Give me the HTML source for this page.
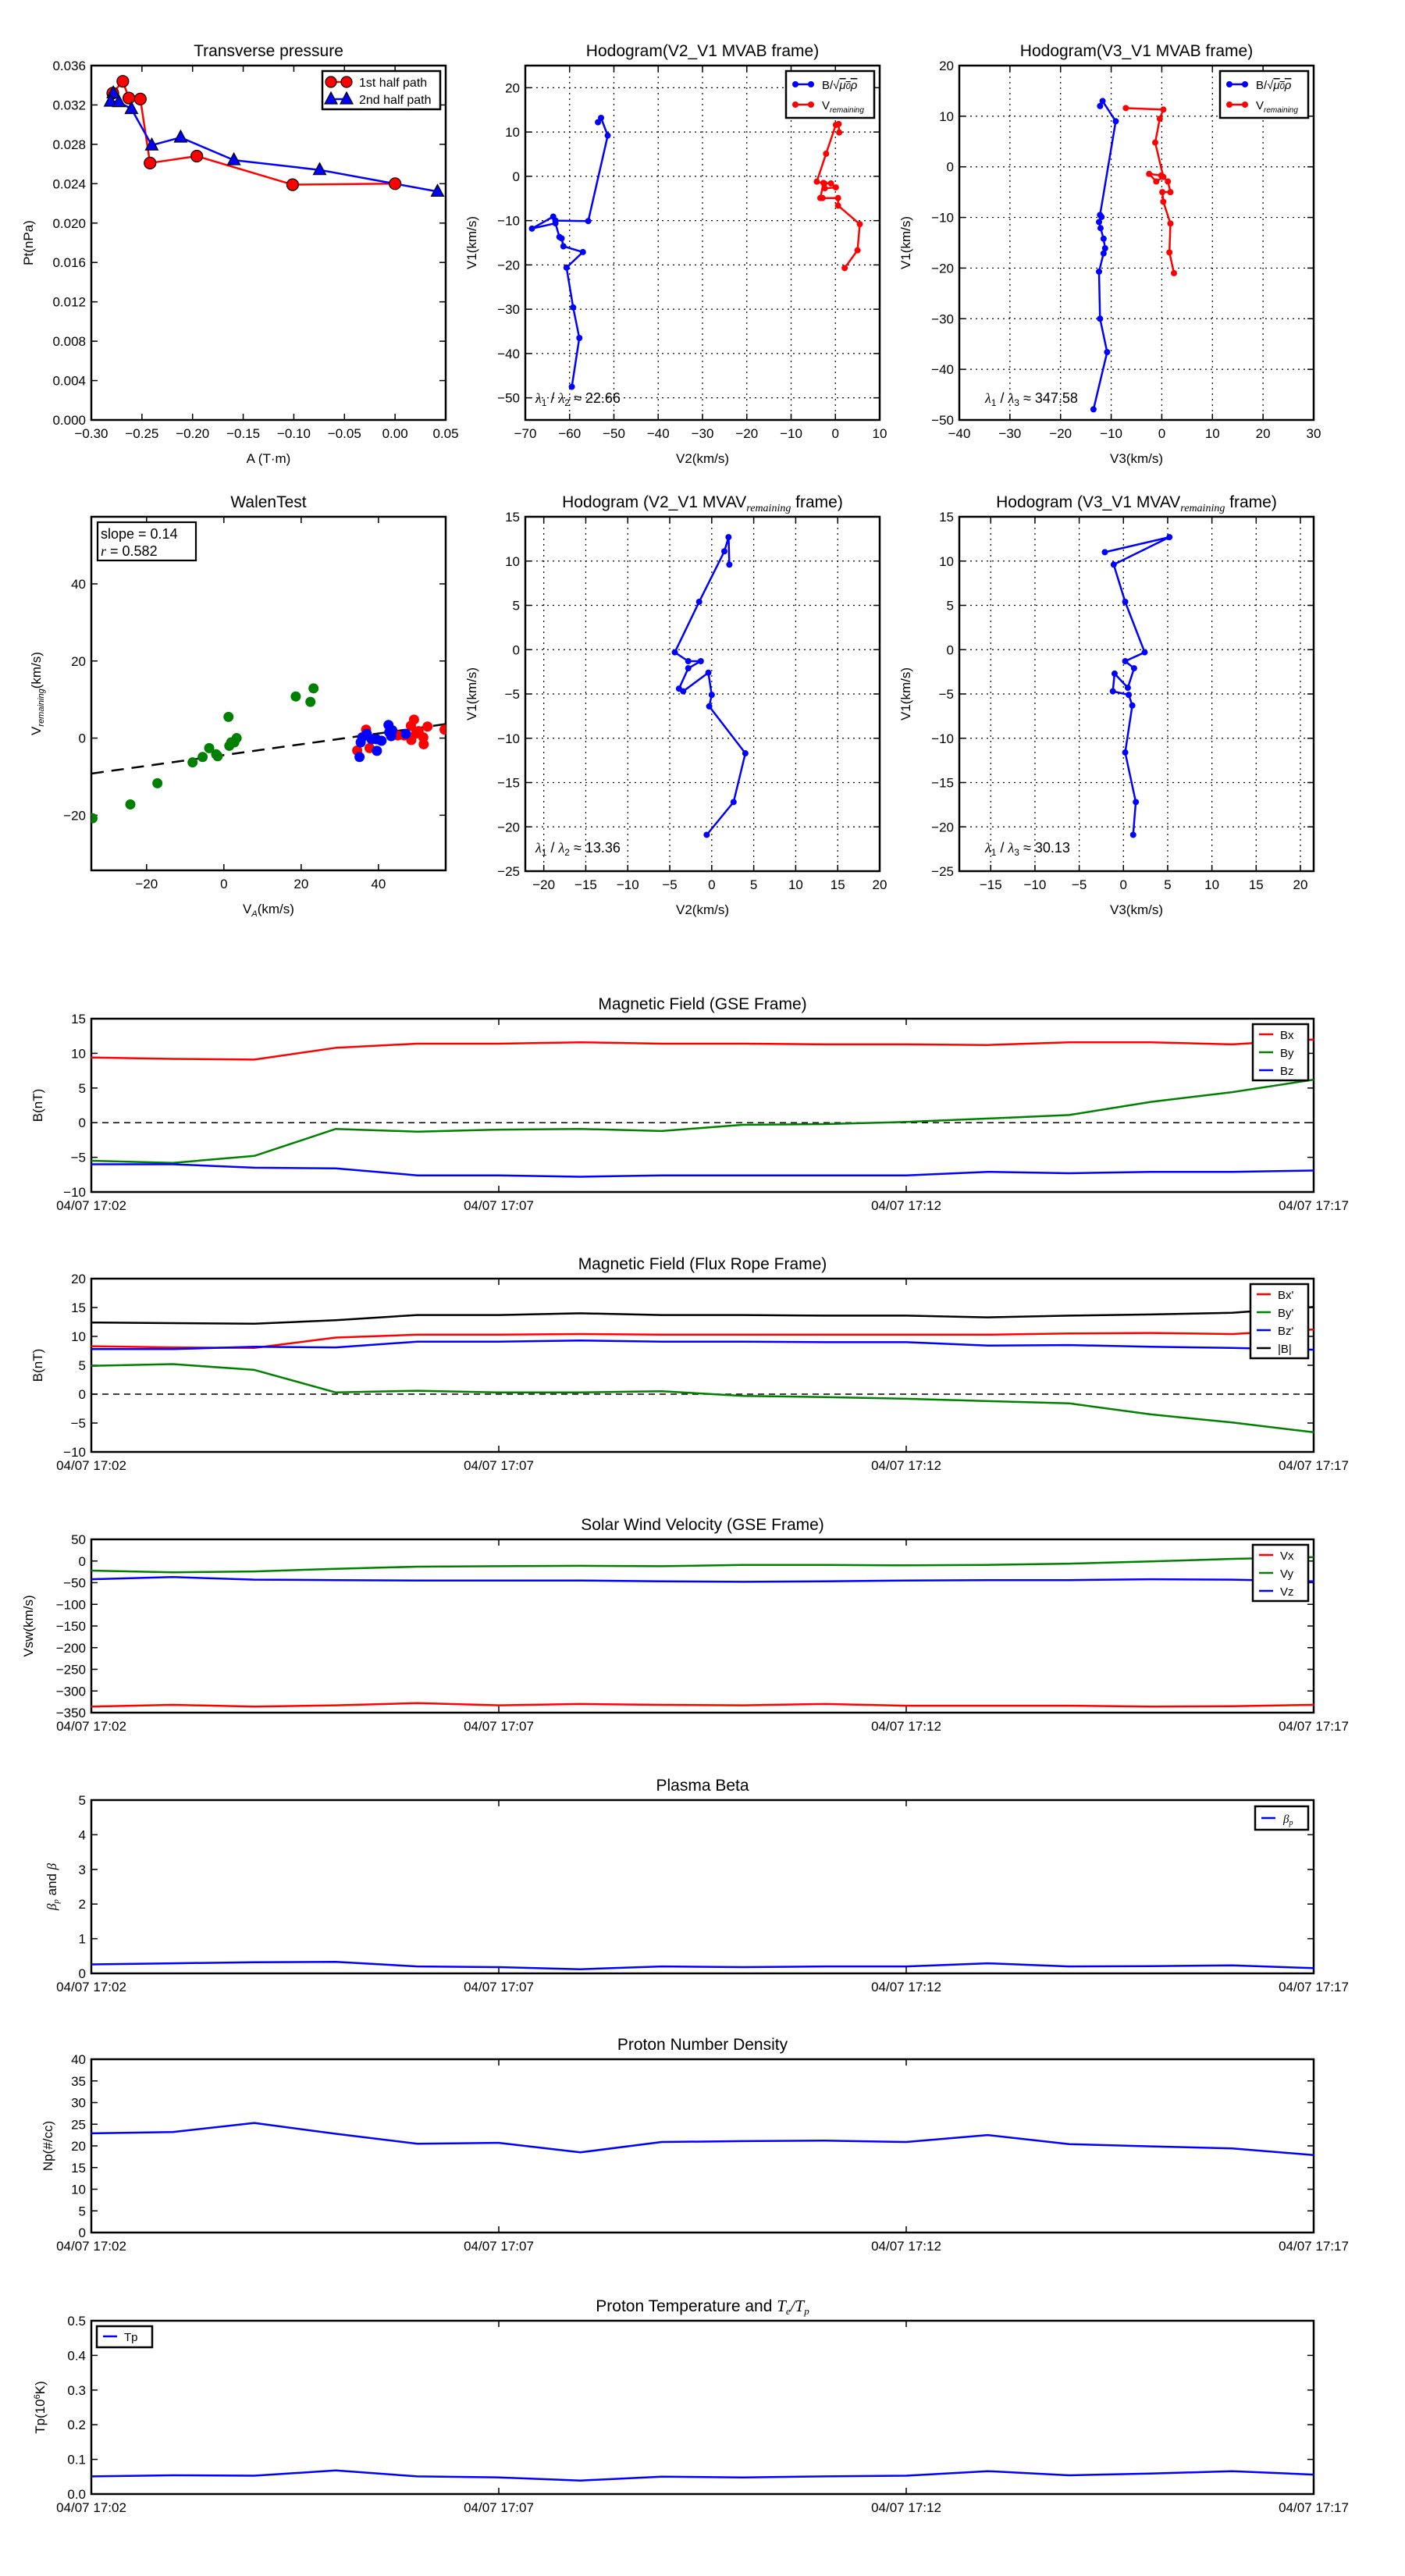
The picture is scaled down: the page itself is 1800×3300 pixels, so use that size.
<!DOCTYPE html>
<html><head><meta charset="utf-8"><title>Flux rope analysis</title>
<style>
html,body{margin:0;padding:0;background:#fff;}
svg{display:block;font-family:"Liberation Sans","DejaVu Sans",sans-serif;}
</style></head>
<body>
<svg id="fig" width="1800" height="3300" viewBox="0 0 1800 3300" xmlns="http://www.w3.org/2000/svg">
<rect x="0" y="0" width="1800" height="3300" fill="#fff"/>
</svg>
<script>
// ---------- data ----------
const pt1A=[-0.2788,-0.2689,-0.2629,-0.2516,-0.2420,-0.1958,-0.1012,0.0000];
const pt1P=[0.0332,0.0344,0.0327,0.0326,0.0261,0.0268,0.0239,0.0240];
const pt2A=[-0.2783,-0.2810,-0.2728,-0.2604,-0.2403,-0.2118,-0.1592,-0.0745,0.0419];
const pt2P=[0.0332,0.03235,0.0323,0.0316,0.0279,0.0287,0.0264,0.0254,0.0232];

const h1bV2=[-59.5,-57.8,-59.2,-60.7,-57.0,-61.4,-61.8,-62.3,-63.2,-68.5,-63.7,-63.2,-55.8,-51.4,-52.9,-53.6];
const h1bV1=[-47.5,-36.5,-29.6,-20.6,-17.1,-15.8,-14.0,-13.7,-10.6,-11.8,-9.1,-10.0,-10.1,9.2,13.2,12.2];
const h1rV2=[2.1,5.0,5.5,0.6,0.6,-2.9,-3.4,-2.7,-1.0,0.1,-2.4,-2.5,-4.2,-2.1,0.1,0.74,0.86];
const h1rV1=[-20.7,-16.7,-10.8,-6.6,-4.9,-4.9,-4.9,-1.5,-1.6,-2.5,-2.7,-1.6,-1.2,5.1,11.6,11.8,9.9];

const h2bV3=[-13.5,-10.8,-12.2,-12.4,-11.5,-11.2,-11.5,-12.1,-12.4,-11.9,-12.2,-9.1,-11.7,-12.2];
const h2bV1=[-47.9,-36.6,-30.0,-20.7,-17.1,-16.1,-14.2,-12.1,-10.9,-9.9,-9.5,9.0,13.0,12.0];
const h2rV3=[2.4,1.5,1.7,0.3,0.1,1.7,1.2,-0.1,-2.5,-1.1,0.3,-1.3,-0.4,0.3,-7.1];
const h2rV1=[-21.0,-16.9,-11.2,-6.9,-5.0,-5.0,-2.9,-1.7,-1.4,-2.9,-2.0,4.8,9.5,11.3,11.6];

const h3V2=[-0.6,2.6,4.0,-0.3,0.0,-0.4,-3.4,-3.9,-2.8,-1.3,-2.8,-4.4,-1.5,1.5,2.0,2.1];
const h3V1=[-20.9,-17.2,-11.7,-6.4,-5.1,-2.6,-4.7,-4.4,-2.1,-1.3,-1.3,-0.3,5.4,11.1,12.7,9.6];

const h4V3=[1.1,1.4,0.2,1.0,0.6,-1.2,-1.0,0.5,1.2,0.2,2.4,0.2,-1.1,5.2,-2.1];
const h4V1=[-20.9,-17.2,-11.6,-6.3,-5.1,-4.7,-2.7,-4.3,-2.1,-1.3,-0.3,5.4,9.6,12.7,11.0];

const wgVA=[-34,-24.2,-17.2,-8.1,-5.5,-3.8,-2.0,-1.6,1.4,1.9,2.7,3.3,1.2,18.6,22.4,23.2];
const wgVR=[-20.8,-17.2,-11.7,-6.3,-4.9,-2.6,-4.2,-4.7,-2.0,-1.1,-1.1,0,5.5,10.8,9.4,12.9];
const wbVA=[35.1,35.4,35.8,37.0,38.2,39.5,39.6,40.8,42.6,42.8,43.6,43.3,47.1];
const wbVR=[-4.9,-1.1,0.2,1.1,-0.3,-0.3,-3.3,-0.7,3.4,1.5,2.0,0.5,1.1];
const wrVA=[34.5,36.8,37.7,45.0,46.7,48.4,49.2,48.5,50.4,51.6,51.7,52.7,57.1,49.7];
const wrVR=[-3.2,2.2,-2.6,0.7,0.7,3.2,4.8,-0.5,1.8,0.2,-1.6,3.0,2.2,1.2];
const walenSlope=0.14, walenIntercept=-4.4;

const tMin=[0,1,2,3,4,5,6,7,8,9,10,11,12,13,14,15];
const timeTicks=[0,5,10,15];
const timeTickLabels=["04/07 17:02","04/07 17:07","04/07 17:12","04/07 17:17"];
const Bx=[9.4,9.2,9.1,10.8,11.4,11.4,11.6,11.4,11.4,11.3,11.3,11.2,11.6,11.6,11.3,12.0];
const By=[-5.5,-5.8,-4.8,-0.9,-1.3,-1.0,-0.9,-1.2,-0.3,-0.2,0.1,0.6,1.1,3.0,4.4,6.2];
const Bz=[-6.0,-6.0,-6.5,-6.6,-7.6,-7.6,-7.8,-7.6,-7.6,-7.6,-7.6,-7.1,-7.3,-7.1,-7.1,-6.9];
const Bxp=[8.3,8.1,8.0,9.8,10.3,10.3,10.4,10.3,10.3,10.3,10.3,10.3,10.5,10.6,10.4,11.2];
const Byp=[4.9,5.2,4.2,0.3,0.6,0.3,0.3,0.5,-0.3,-0.5,-0.8,-1.2,-1.6,-3.5,-4.9,-6.6];
const Bzp=[7.8,7.8,8.2,8.1,9.1,9.1,9.3,9.1,9.1,9.0,9.0,8.4,8.5,8.2,8.0,7.7];
const Bmag=[12.4,12.3,12.2,12.8,13.7,13.7,14.0,13.7,13.7,13.6,13.6,13.3,13.6,13.8,14.1,15.1];
const Vx=[-336,-332,-336,-333,-328,-333,-330,-332,-333,-330,-334,-334,-334,-336,-335,-332];
const Vy=[-22,-26,-24,-18,-13,-12,-11,-12,-9,-9,-10,-9,-6,-1,5,9];
const Vz=[-42,-37,-43,-44,-45,-45,-45,-47,-48,-47,-45,-44,-44,-42,-43,-47];
const betaP=[0.26,0.29,0.32,0.33,0.20,0.18,0.12,0.20,0.18,0.20,0.20,0.29,0.20,0.21,0.23,0.15];
const Np=[22.9,23.2,25.3,22.8,20.5,20.7,18.5,20.9,21.1,21.2,20.9,22.5,20.4,19.9,19.4,17.9];
const Tp=[0.051,0.054,0.053,0.068,0.051,0.048,0.039,0.050,0.048,0.051,0.053,0.066,0.054,0.059,0.066,0.056];

// ---------- helpers ----------
const NS='http://www.w3.org/2000/svg';
const svg=document.getElementById('fig');
let clipId=0;
function mk(tag,attrs,parent){const e=document.createElementNS(NS,tag);for(const k in attrs)e.setAttribute(k,attrs[k]);(parent||svg).appendChild(e);return e;}
function txt(parent,x,y,s,size,anchor,extra){const t=mk('text',Object.assign({x:x,y:y,'font-size':size,'text-anchor':anchor||'middle',fill:'#000'},extra||{}),parent);t.textContent=s;return t;}
function fmt(v,d){const s=Math.abs(v).toFixed(d);return (v<-1e-9?'\u2212':'')+s;}

function axes(name,c){
  const g=mk('g',{});
  
  
  const sx=v=>c.x0+(v-c.xmin)/(c.xmax-c.xmin)*c.w;
  const sy=v=>c.y0+c.h-(v-c.ymin)/(c.ymax-c.ymin)*c.h;
  const id='clip'+(clipId++);
  const cp=mk('clipPath',{id:id},g);
  mk('rect',{x:c.x0,y:c.y0,width:c.w,height:c.h},cp);
  // grid
  if(c.grid){
    const gg=mk('g',{stroke:'#000','stroke-width':1.2,'stroke-dasharray':'2,5'},g);
    
    
    c.xt.forEach(v=>mk('line',{x1:sx(v),x2:sx(v),y1:c.y0,y2:c.y0+c.h},gg));
    c.yt.forEach(v=>mk('line',{y1:sy(v),y2:sy(v),x1:c.x0,x2:c.x0+c.w},gg));
  }
  const tg=mk('g',{stroke:'#000','stroke-width':1.5},g);
  
  
  const xl=mk('g',{},g);
  
  
  c.xt.forEach((v,i)=>{const X=sx(v);
    mk('line',{x1:X,x2:X,y1:c.y0+c.h,y2:c.y0+c.h-8},tg);
    mk('line',{x1:X,x2:X,y1:c.y0,y2:c.y0+8},tg);
    txt(xl,X,c.y0+c.h+23,c.xlab?c.xlab[i]:fmt(v,c.xd||0),17);
  });
  const yl=mk('g',{},g);
  
  
  c.yt.forEach(v=>{const Y=sy(v);
    mk('line',{x1:c.x0,x2:c.x0+8,y1:Y,y2:Y},tg);
    mk('line',{x1:c.x0+c.w,x2:c.x0+c.w-8,y1:Y,y2:Y},tg);
    txt(yl,c.x0-7,Y+6,fmt(v,c.yd||0),17,'end');
  });
  const fr=mk('rect',{x:c.x0,y:c.y0,width:c.w,height:c.h,fill:'none',stroke:'#000','stroke-width':2.5},g);
  
  
  const ti=txt(g,c.x0+c.w/2,c.y0-12,'',21);
  ti.innerHTML=c.title;
  
  
  if(c.xlabel){const xlb=txt(g,c.x0+c.w/2,c.y0+c.h+55,'',17);xlb.innerHTML=c.xlabel;
    
    }
  if(c.ylabel){const yx=c.ylx;const ylb=txt(g,yx,c.y0+c.h/2,'',17,'middle',{transform:'rotate(-90 '+yx+' '+(c.y0+c.h/2)+')'});ylb.innerHTML=c.ylabel;
    
    }
  const plot=mk('g',{'clip-path':'url(#'+id+')'},g);
  
  
  return {g:g,plot:plot,sx:sx,sy:sy};
}
function line(ax,xs,ys,color,w,name){
  const d=xs.map((x,i)=>(i?'L':'M')+ax.sx(x).toFixed(1)+' '+ax.sy(ys[i]).toFixed(1)).join(' ');
  const p=mk('path',{d:d,fill:'none',stroke:color,'stroke-width':w||2.5,'stroke-linejoin':'round'},ax.plot);
  
  
  return p;
}
function dots(ax,xs,ys,color,r,name,edge){
  const g=mk('g',{},ax.plot);
  
  
  xs.forEach((x,i)=>{const c=mk('circle',{cx:ax.sx(x),cy:ax.sy(ys[i]),r:r,fill:color,stroke:edge||'none','stroke-width':1.2},g);
    
    });
}
function tris(ax,xs,ys,color,name){
  const g=mk('g',{},ax.plot);
  
  
  xs.forEach((x,i)=>{const X=ax.sx(x),Y=ax.sy(ys[i]);
    const p=mk('polygon',{points:(X)+','+(Y-9)+' '+(X-8)+','+(Y+6)+' '+(X+8)+','+(Y+6),fill:color,stroke:'#000','stroke-width':1.2},g);
    
    });
}
function legend(name,x,y,w,h,entries){
  const g=mk('g',{});
  
  
  mk('rect',{x:x,y:y,width:w,height:h,fill:'#fff',stroke:'#000','stroke-width':2.5},g);
  entries.forEach((e,i)=>{const Y=y+e.dy;
    const eg=mk('g',{},g);
    
    
    mk('line',{x1:x+e.lx1,x2:x+e.lx2,y1:Y,y2:Y,stroke:e.c,'stroke-width':2.5},eg);
    if(e.m==='o'){[e.lx1,e.lx2].forEach(px=>mk('circle',{cx:x+px,cy:Y,r:e.r||7,fill:e.c,stroke:e.edge||'none','stroke-width':1.2},eg));}
    if(e.m==='^'){[e.lx1,e.lx2].forEach(px=>mk('polygon',{points:(x+px)+','+(Y-9)+' '+(x+px-8)+','+(Y+6)+' '+(x+px+8)+','+(Y+6),fill:e.c,stroke:'#000','stroke-width':1.2},eg));}
    const t=txt(eg,x+e.tx,Y+6,'',e.fs||17,'start');t.innerHTML=e.t;
  });
}
const minus='\u2212';

// ---------- Transverse pressure ----------
(function(){
  const xt=[-0.30,-0.25,-0.20,-0.15,-0.10,-0.05,0.00,0.05];
  const yt=[0,0.004,0.008,0.012,0.016,0.020,0.024,0.028,0.032,0.036];
  const ax=axes('transverse-pressure-chart',{x0:117,y0:84,w:454,h:454,xmin:-0.30,xmax:0.05,ymin:0,ymax:0.036,xt:xt,yt:yt,xd:2,yd:3,
    title:'Transverse pressure',xlabel:'A (T\u00b7m)',ylabel:'Pt(nPa)',ylx:42});
  line(ax,pt1A,pt1P,'#ff0000',2.5,'first-half-path-line');
  line(ax,pt2A,pt2P,'#0000ff',2.5,'second-half-path-line');
  dots(ax,pt1A,pt1P,'#ff0000',7.5,'first-half-path-markers','#000');
  tris(ax,pt2A,pt2P,'#0000ff','second-half-path-markers');
  legend('pressure-legend',413,91,151,49,[
    {dy:14,lx1:11,lx2:31,c:'#ff0000',m:'o',edge:'#000',tx:47,t:'1st half path',fs:16},
    {dy:36,lx1:11,lx2:31,c:'#0000ff',m:'^',tx:47,t:'2nd half path',fs:16}]);
})();

const bLegendEntries=[
  {dy:17,lx1:12,lx2:32,c:'#0000ff',m:'o',r:4,tx:46,t:'B/\u221a<tspan font-style="italic" text-decoration="overline">\u03bc<tspan font-size="11">0</tspan>\u03c1</tspan>',fs:15},
  {dy:43,lx1:12,lx2:32,c:'#ff0000',m:'o',r:4,tx:46,t:'V<tspan font-size="10" font-style="italic" dy="4">remaining</tspan>',fs:15}];

// ---------- Hodogram V2_V1 MVAB ----------
(function(){
  const ax=axes('hodogram-v2-v1-mvab-chart',{x0:673,y0:84,w:454,h:454,xmin:-70,xmax:10,ymin:-55,ymax:25,
    xt:[-70,-60,-50,-40,-30,-20,-10,0,10],yt:[-50,-40,-30,-20,-10,0,10,20],grid:true,
    title:'Hodogram(V2_V1 MVAB frame)',xlabel:'V2(km/s)',ylabel:'V1(km/s)',ylx:610});
  line(ax,h1bV2,h1bV1,'#0000ff',2.5,'b-field-hodogram-line');
  dots(ax,h1bV2,h1bV1,'#0000ff',4,'b-field-hodogram-markers');
  line(ax,h1rV2,h1rV1,'#ff0000',2.5,'v-remaining-hodogram-line');
  dots(ax,h1rV2,h1rV1,'#ff0000',4,'v-remaining-hodogram-markers');
  const t=txt(ax.g,686,516,'',18,'start');t.innerHTML='<tspan font-style="italic" font-family="Liberation Serif">\u03bb</tspan><tspan font-size="12" dy="4">1</tspan><tspan dy="-4"> / </tspan><tspan font-style="italic" font-family="Liberation Serif">\u03bb</tspan><tspan font-size="12" dy="4">2</tspan><tspan dy="-4"> \u2248 22.66</tspan>';
  
  
  legend('hodogram-mvab-v2-legend',1007,91,113,60,bLegendEntries);
})();

// ---------- Hodogram V3_V1 MVAB ----------
(function(){
  const ax=axes('hodogram-v3-v1-mvab-chart',{x0:1229,y0:84,w:454,h:454,xmin:-40,xmax:30,ymin:-50,ymax:20,
    xt:[-40,-30,-20,-10,0,10,20,30],yt:[-50,-40,-30,-20,-10,0,10,20],grid:true,
    title:'Hodogram(V3_V1 MVAB frame)',xlabel:'V3(km/s)',ylabel:'V1(km/s)',ylx:1166});
  line(ax,h2bV3,h2bV1,'#0000ff',2.5,'b-field-hodogram-line');
  dots(ax,h2bV3,h2bV1,'#0000ff',4,'b-field-hodogram-markers');
  line(ax,h2rV3,h2rV1,'#ff0000',2.5,'v-remaining-hodogram-line');
  dots(ax,h2rV3,h2rV1,'#ff0000',4,'v-remaining-hodogram-markers');
  const t=txt(ax.g,1262,516,'',18,'start');t.innerHTML='<tspan font-style="italic" font-family="Liberation Serif">\u03bb</tspan><tspan font-size="12" dy="4">1</tspan><tspan dy="-4"> / </tspan><tspan font-style="italic" font-family="Liberation Serif">\u03bb</tspan><tspan font-size="12" dy="4">3</tspan><tspan dy="-4"> \u2248 347.58</tspan>';
  
  
  legend('hodogram-mvab-v3-legend',1563,91,113,60,bLegendEntries);
})();

// ---------- Walen test ----------
(function(){
  const ax=axes('walen-test-chart',{x0:117,y0:662,w:454,h:453,xmin:-34.3,xmax:57.4,ymin:-34.3,ymax:57.4,
    xt:[-20,0,20,40],yt:[-20,0,20,40],
    title:'WalenTest',xlabel:'V<tspan font-size="11" dy="4" font-style="italic">A</tspan><tspan dy="-4">(km/s)</tspan>',
    ylabel:'V<tspan font-size="11" dy="4" font-style="italic">remaining</tspan><tspan dy="-4">(km/s)</tspan>',ylx:52});
  const fx=[-34.3,57.4];
  const fy=fx.map(v=>walenSlope*v+walenIntercept);
  const fl=line(ax,fx,fy,'#000',2.5,'walen-fit-line');
  fl.setAttribute('stroke-dasharray','16,10');
  dots(ax,wgVA,wgVR,'#008000',6.5,'walen-green-points');
  dots(ax,wrVA,wrVR,'#ff0000',6.5,'walen-red-points');
  dots(ax,wbVA,wbVR,'#0000ff',6.5,'walen-blue-points');
  const bx=mk('g',{},ax.g);
  
  
  mk('rect',{x:125,y:669,width:126,height:49,fill:'#fff',stroke:'#000','stroke-width':2.2},bx);
  txt(bx,129,690,'slope = 0.14',18,'start');
  const r=txt(bx,129,712,'',18,'start');r.innerHTML='<tspan font-style="italic" font-family="Liberation Serif">r</tspan> = 0.582';
})();

// ---------- Hodogram V2_V1 MVAV ----------
(function(){
  const ax=axes('hodogram-v2-v1-mvav-chart',{x0:673,y0:662,w:454,h:454,xmin:-22.2,xmax:20,ymin:-25,ymax:15,
    xt:[-20,-15,-10,-5,0,5,10,15,20],yt:[-25,-20,-15,-10,-5,0,5,10,15],grid:true,
    title:'Hodogram (V2_V1 MVAV<tspan font-size="14" dy="5" font-style="italic" font-family="Liberation Serif">remaining</tspan><tspan dy="-5"> frame)</tspan>',xlabel:'V2(km/s)',ylabel:'V1(km/s)',ylx:610});
  line(ax,h3V2,h3V1,'#0000ff',2.5,'v-remaining-hodogram-line');
  dots(ax,h3V2,h3V1,'#0000ff',4,'v-remaining-hodogram-markers');
  const t=txt(ax.g,686,1092,'',18,'start');t.innerHTML='<tspan font-style="italic" font-family="Liberation Serif">\u03bb</tspan><tspan font-size="12" dy="4">1</tspan><tspan dy="-4"> / </tspan><tspan font-style="italic" font-family="Liberation Serif">\u03bb</tspan><tspan font-size="12" dy="4">2</tspan><tspan dy="-4"> \u2248 13.36</tspan>';
  
  
})();

// ---------- Hodogram V3_V1 MVAV ----------
(function(){
  const ax=axes('hodogram-v3-v1-mvav-chart',{x0:1229,y0:662,w:454,h:454,xmin:-18.55,xmax:21.5,ymin:-25,ymax:15,
    xt:[-15,-10,-5,0,5,10,15,20],yt:[-25,-20,-15,-10,-5,0,5,10,15],grid:true,
    title:'Hodogram (V3_V1 MVAV<tspan font-size="14" dy="5" font-style="italic" font-family="Liberation Serif">remaining</tspan><tspan dy="-5"> frame)</tspan>',xlabel:'V3(km/s)',ylabel:'V1(km/s)',ylx:1166});
  line(ax,h4V3,h4V1,'#0000ff',2.5,'v-remaining-hodogram-line');
  dots(ax,h4V3,h4V1,'#0000ff',4,'v-remaining-hodogram-markers');
  const t=txt(ax.g,1262,1092,'',18,'start');t.innerHTML='<tspan font-style="italic" font-family="Liberation Serif">\u03bb</tspan><tspan font-size="12" dy="4">1</tspan><tspan dy="-4"> / </tspan><tspan font-style="italic" font-family="Liberation Serif">\u03bb</tspan><tspan font-size="12" dy="4">3</tspan><tspan dy="-4"> \u2248 30.13</tspan>';
  
  
})();

// ---------- time series ----------
function ts(name,y0,ymin,ymax,yt,yd,title,ylabel,ylx,series,leg,zero){
  const ax=axes(name,{x0:117,y0:y0,w:1566,h:222,xmin:0,xmax:15,ymin:ymin,ymax:ymax,xt:timeTicks,xlab:timeTickLabels,yt:yt,yd:yd,
    title:title,ylabel:ylabel,ylx:ylx});
  if(zero){const z=line(ax,[0,15],[0,0],'#000',1.5,'zero-reference-line');z.setAttribute('stroke-dasharray','8,6');}
  series.forEach(s=>line(ax,tMin,s.v,s.c,2.5,s.n));
  if(leg)legend(name+'-legend',leg.x,leg.y,leg.w,leg.h,leg.e);
}
const legE=(labels,colors)=>labels.map((t,i)=>({dy:13+i*23,lx1:8,lx2:26,c:colors[i],tx:35,t:t,fs:15}));
ts('magnetic-field-gse-chart',1305,-10,15,[-10,-5,0,5,10,15],0,'Magnetic Field (GSE Frame)','B(nT)',54,
  [{v:Bx,c:'#ff0000',n:'bx-line'},{v:By,c:'#008000',n:'by-line'},{v:Bz,c:'#0000ff',n:'bz-line'}],
  {x:1605,y:1312,w:71,h:72,e:legE(['Bx','By','Bz'],['#ff0000','#008000','#0000ff'])},true);
ts('magnetic-field-flux-rope-chart',1638,-10,20,[-10,-5,0,5,10,15,20],0,'Magnetic Field (Flux Rope Frame)','B(nT)',54,
  [{v:Bmag,c:'#000',n:'bmag-line'},{v:Bxp,c:'#ff0000',n:'bx-prime-line'},{v:Bzp,c:'#0000ff',n:'bz-prime-line'},{v:Byp,c:'#008000',n:'by-prime-line'}],
  {x:1602,y:1645,w:74,h:95,e:legE(["Bx'","By'","Bz'",'|B|'],['#ff0000','#008000','#0000ff','#000'])},true);
ts('solar-wind-velocity-chart',1972,-350,50,[-350,-300,-250,-200,-150,-100,-50,0,50],0,'Solar Wind Velocity (GSE Frame)','Vsw(km/s)',42,
  [{v:Vx,c:'#ff0000',n:'vx-line'},{v:Vy,c:'#008000',n:'vy-line'},{v:Vz,c:'#0000ff',n:'vz-line'}],
  {x:1605,y:1979,w:71,h:72,e:legE(['Vx','Vy','Vz'],['#ff0000','#008000','#0000ff'])},false);
ts('plasma-beta-chart',2306,0,5,[0,1,2,3,4,5],0,'Plasma Beta','<tspan font-style="italic" font-family="Liberation Serif">\u03b2<tspan font-size="11" dy="3">p</tspan></tspan><tspan dy="-3"> and </tspan><tspan font-style="italic" font-family="Liberation Serif">\u03b2</tspan>',72,
  [{v:betaP,c:'#0000ff',n:'beta-p-line'}],
  {x:1608,y:2314,w:68,h:30,e:[{dy:15,lx1:8,lx2:26,c:'#0000ff',tx:36,t:'<tspan font-style="italic" font-family="Liberation Serif">\u03b2<tspan font-size="10" dy="3">p</tspan></tspan>',fs:15}]},false);
ts('proton-density-chart',2638,0,40,[0,5,10,15,20,25,30,35,40],0,'Proton Number Density','Np(#/cc)',67,
  [{v:Np,c:'#0000ff',n:'np-line'}],null,false);
ts('proton-temperature-chart',2973,0,0.5,[0,0.1,0.2,0.3,0.4,0.5],1,'Proton Temperature and <tspan font-style="italic" font-family="Liberation Serif">T<tspan font-size="13" dy="4">e</tspan><tspan dy="-4">/T</tspan><tspan font-size="13" dy="4">p</tspan></tspan>','Tp(10<tspan font-size="11" dy="-6">6</tspan><tspan dy="6">K)</tspan>',57,
  [{v:Tp,c:'#0000ff',n:'tp-line'}],
  {x:124,y:2980,w:71,h:27,e:[{dy:13,lx1:8,lx2:26,c:'#0000ff',tx:35,t:'Tp',fs:15}]},false);
</script>
</body></html>
